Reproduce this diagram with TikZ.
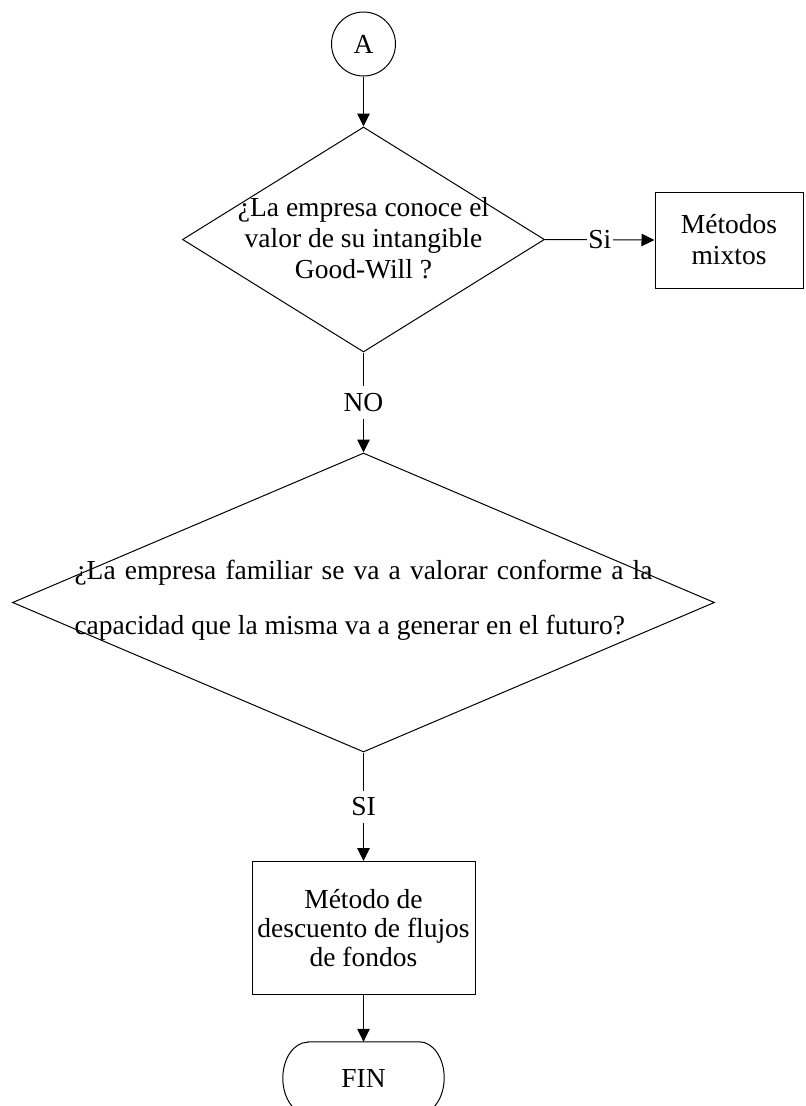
\documentclass[tikz,border=0pt]{standalone}
\usepackage{fontspec}
\setmainfont{Liberation Serif}
\usetikzlibrary{shapes.geometric,arrows.meta}
\begin{document}
\begin{tikzpicture}[x=1pt,y=1pt,
  every node/.style={font=\fontsize{27.5}{31}\selectfont},
  line/.style={draw=black, line width=1pt},
  arr/.style={line, -{Triangle[length=13pt,width=12.5pt]}},
  decision/.style={diamond, draw, line width=1pt, inner sep=0pt},
  procbox/.style={rectangle, draw, line width=1pt, inner sep=0pt, align=center},
  lbl/.style={fill=white, inner xsep=1.5pt, inner ysep=7pt},
  txt/.style={align=center, inner sep=0pt}
]
\useasboundingbox (0,0) rectangle (806,-1106);
\clip (0,0) rectangle (806,-1106);

\node[circle, draw, line width=1pt, minimum size=64pt, inner sep=0pt] (A) at (363.5,-44) {A};

\node[decision, minimum width=362pt, minimum height=225pt] (D1) at (363.5,-239.5) {};
\node[txt] (D1t) at (363.5,-238) {¿La empresa conoce el\\valor de su intangible\\Good-Will ?};

\node[procbox, minimum width=148pt, minimum height=96pt] (M) at (729,-240) {Métodos\\mixtos};

\node[decision, minimum width=702pt, minimum height=299pt] (D2) at (363.5,-602.5) {};
\node[text width=578pt, align=justify, inner sep=0pt, font=\fontsize{27.5}{55}\selectfont] (D2t) at (363.5,-600) {¿La empresa familiar se va a valorar conforme a la\linebreak capacidad que la misma va a generar en el futuro?};

\node[procbox, minimum width=223pt, minimum height=133pt, font=\fontsize{27.5}{29}\selectfont] (B) at (363.5,-928) {Método de\\descuento de flujos\\de fondos};

\node[minimum width=161pt, minimum height=72pt, inner sep=0pt] (F) at (363.5,-1078) {FIN};
\draw[line] ([xshift=25pt]F.north west) -- ([xshift=-25pt]F.north east)
  arc[start angle=90,end angle=-90,x radius=25pt,y radius=36pt]
  -- ([xshift=25pt]F.south west)
  arc[start angle=270,end angle=90,x radius=25pt,y radius=36pt] -- cycle;

\draw[arr] (A.south) -- (D1.north);
\draw[arr] (D1.east) -- node[lbl]{Si} (M.west);
\draw[arr] (D1.south) -- node[lbl]{NO} (D2.north);
\draw[arr] (D2.south) -- node[lbl]{SI} (B.north);
\draw[arr] (B.south) -- (F.north);
\end{tikzpicture}
\end{document}
